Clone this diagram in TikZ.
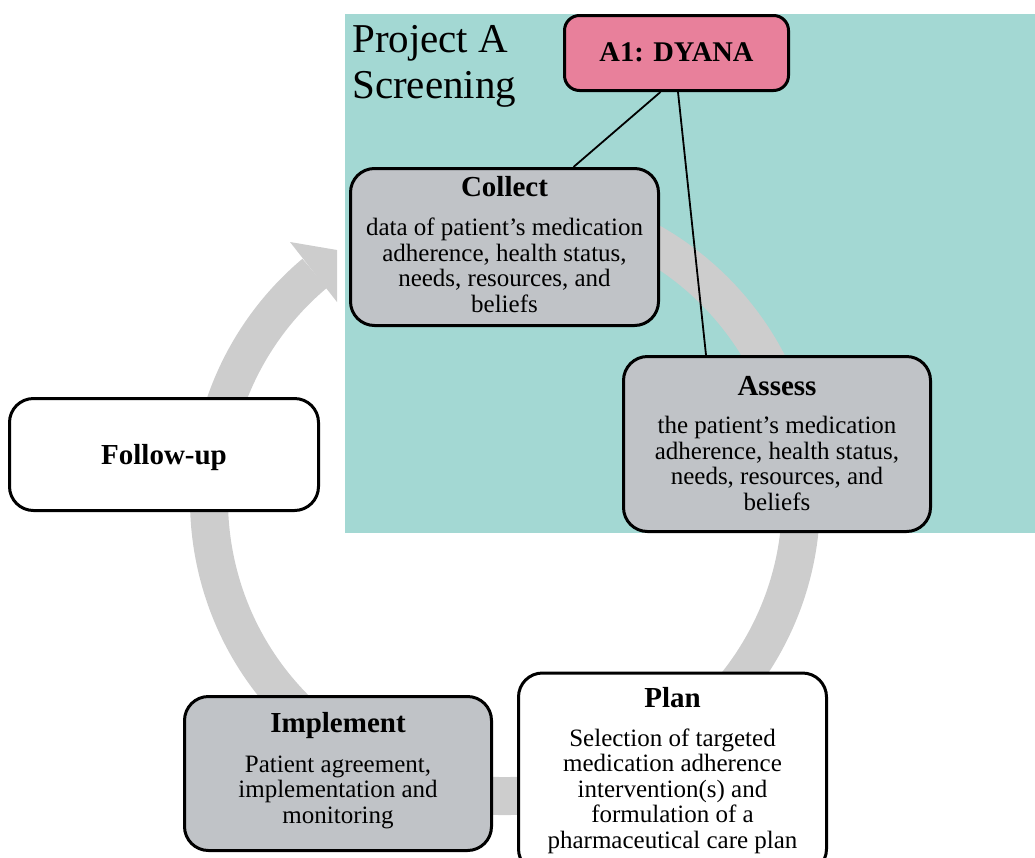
\documentclass[tikz,border=0pt]{standalone}
\usepackage{fontspec}
\setmainfont{Liberation Serif}
\usetikzlibrary{calc}

\definecolor{screenteal}{HTML}{A3D8D3}
\definecolor{stagegray}{HTML}{C0C3C7}
\definecolor{dyanapink}{HTML}{E8809B}
\definecolor{ringgray}{HTML}{CDCDCD}

\newcommand\bodysize{\fontsize{25}{25.5}\selectfont}
\newcommand\headsize{\fontsize{29}{31}\selectfont\bfseries}

\begin{document}
\begin{tikzpicture}[x=1pt, y=1pt,
  stage/.style={draw=black, line width=3pt, rounded corners=24pt, inner sep=0pt},
  graystage/.style={stage, fill=stagegray},
  whitestage/.style={stage, fill=white},
  head/.style={font=\headsize, anchor=base, inner sep=0pt},
  % multi-line nodes: the base anchor sits on the last line
  body/.style={font=\bodysize, align=center, anchor=base, inner sep=0pt},
  link/.style={draw=black, line width=1.8pt}
]
\useasboundingbox (0,0) rectangle (1035,-857);

% screening area
\fill[screenteal] (345,-14) rectangle (1035,-533);

% cycle arrow
\draw[ringgray, line width=38pt] (505,-500) ++(100:296)
  arc[start angle=100, end angle=-230, radius=296];
\fill[ringgray] (290,-242) -- (337,-250) -- (337,-302) -- cycle;

% area title
\node[font=\fontsize{41}{46}\selectfont, align=left, anchor=base west, inner sep=0pt]
  (areatitle) at (352,-98) {Project A\\Screening};

% stages
\node[graystage, minimum width=308pt, minimum height=157pt] (collect) at (504.5,-247) {};
\node[graystage, minimum width=307pt, minimum height=175pt] (assess) at (777,-444) {};
\node[whitestage, minimum width=309pt, minimum height=112pt] (follow) at (164,-454.5) {};
\node[graystage, minimum width=307pt, minimum height=154pt] (implement) at (338,-773.5) {};
\node[whitestage, minimum width=308pt, minimum height=200pt] (plan) at (672.5,-773) {};

% project box
\node[draw=black, line width=3pt, rounded corners=15pt, fill=dyanapink,
  minimum width=224pt, minimum height=75pt, inner sep=0pt] (dyana) at (676.5,-53) {};
\node[font=\fontsize{28.5}{30}\selectfont\bfseries, anchor=base, inner sep=0pt]
  (dyanatext) at (676.5,-61) {A1: DYANA};

% stage texts
\node[head] (collecthead) at (504.5,-196) {Collect};
\node[body] (collectbody) at (504.5,-312) {data of patient’s medication\\adherence, health status,\\needs, resources, and\\beliefs};

\node[head] (assesshead) at (777,-395) {Assess};
\node[body] (assessbody) at (777,-510) {the patient’s medication\\adherence, health status,\\needs, resources, and\\beliefs};

\node[head] (followhead) at (164,-464) {Follow-up};

\node[head] (implementhead) at (338,-732) {Implement};
\node[body] (implementbody) at (338,-823) {Patient agreement,\\implementation and\\monitoring};

\node[head] (planhead) at (672.5,-707) {Plan};
\node[body] (planbody) at (672.5,-848) {Selection of targeted\\medication adherence\\intervention(s) and\\formulation of a\\pharmaceutical care plan};

% links from the project box
\draw[link] ($(dyana.south)+(-16,0)$) -- ($(collect.north)+(69,0)$);
\draw[link] ($(dyana.south)+(1.5,0)$) -- ($(assess.north)+(-71,0)$);
\end{tikzpicture}
\end{document}
